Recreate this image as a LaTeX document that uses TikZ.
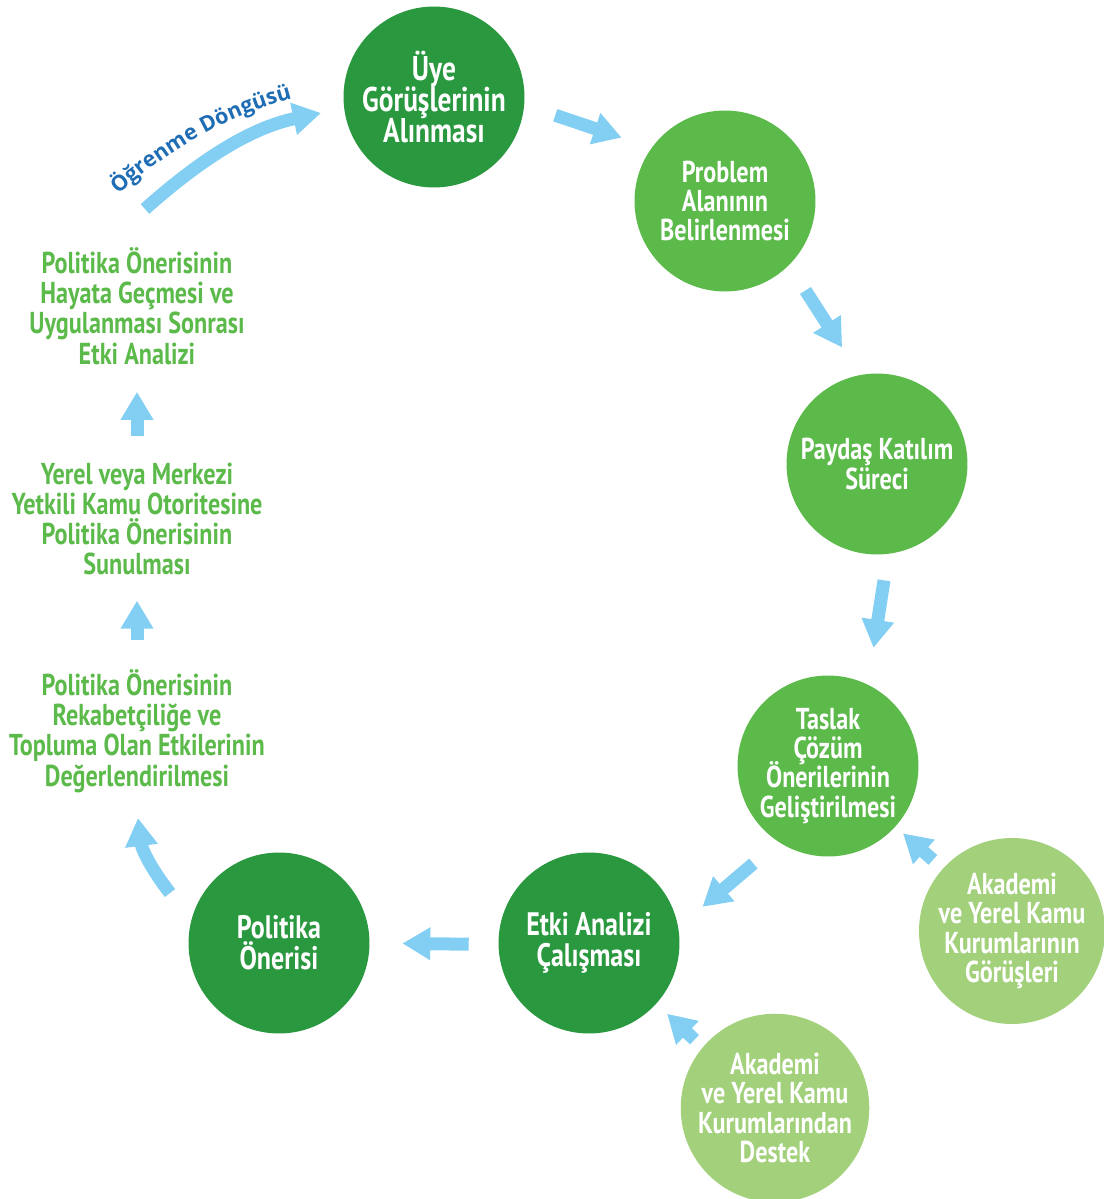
\documentclass[tikz,border=0pt]{standalone}
\usepackage{fontspec}
\setmainfont{PT Sans}[FakeStretch=0.8]
\newfontfamily\loopfont{Open Sans}
\usepackage{xcolor}
\usepackage{tikz}
\usetikzlibrary{arrows.meta}
\usetikzlibrary{decorations.text}
\definecolor{darkgreen}{HTML}{29983F}
\definecolor{midgreen}{HTML}{5CBA4B}
\definecolor{lightgreen}{HTML}{A2D07B}
\definecolor{arrowblue}{HTML}{83CFF3}
\definecolor{loopblue}{HTML}{1F6DB5}
\newcommand\tightlines{\lineskiplimit=-20pt\relax}

\tikzset{
  stage/.style={circle, minimum size=3.62cm, inner sep=0pt, text=white, align=center,
    font=\bfseries\fontsize{17.2}{16.6}\selectfont\tightlines},
  note/.style={inner sep=0pt, text=midgreen, align=center,
    font=\bfseries\fontsize{17.2}{17.2}\selectfont\tightlines},
  flow/.style={draw=arrowblue, line width=0.26cm, -{Triangle[length=0.56cm, width=0.62cm]},
    shorten <=0.6cm, shorten >=0.6cm}
}

\begin{document}
\begin{tikzpicture}[x=0.02cm, y=-0.02cm]
            \useasboundingbox (0,0) rectangle (1103,1199);

            % Döngü adımları
            \node[stage, fill=darkgreen, font=\bfseries\fontsize{19.5}{17.6}\selectfont\tightlines] (uye) at (434,97) {Üye\\Görüşlerinin\\Alınması};
            \node[stage, fill=midgreen] (problem) at (725,201) {Problem\\Alanının\\Belirlenmesi};
            \node[stage, fill=midgreen] (paydas) at (877,464) {Paydaş Katılım\\Süreci};
            \node[stage, fill=midgreen] (taslak) at (828,766) {Taslak\\Çözüm\\Önerilerinin\\Geliştirilmesi};
            \node[stage, fill=darkgreen, font=\bfseries\fontsize{18.5}{17.6}\selectfont\tightlines] (etki) at (589,943) {Etki Analizi\\Çalışması};
            \node[stage, fill=darkgreen, font=\bfseries\fontsize{18.5}{17.6}\selectfont\tightlines] (politika) at (279,943) {Politika\\Önerisi};

            % Destek veren kurumlar
            \node[stage, fill=lightgreen] (gorus) at (1012,931) {Akademi\\ve Yerel Kamu\\Kurumlarının\\Görüşleri};
            \node[stage, fill=lightgreen] (destek) at (775,1108) {Akademi\\ve Yerel Kamu\\Kurumlarından\\Destek};

            % Sol sütun
            \node[note] (degerlendirme) at (137,731) {Politika Önerisinin\\Rekabetçiliğe ve\\Topluma Olan Etkilerinin\\Değerlendirilmesi};
            \node[note] (sunum) at (137,519) {Yerel veya Merkezi\\Yetkili Kamu Otoritesine\\Politika Önerisinin\\Sunulması};
            \node[note] (uygulama) at (137,306) {Politika Önerisinin\\Hayata Geçmesi ve\\Uygulanması Sonrası\\Etki Analizi};

            % Oklar
            \draw[flow, shorten <=0.65cm, shorten >=0.63cm] (uye.-5) -- (problem.144);
            \draw[flow, shorten <=0.6cm, shorten >=0.65cm] (problem.-45) -- (paydas.101);
            \draw[flow, shorten <=0.53cm, shorten >=0.74cm] (paydas.-83) -- (taslak.64);
            \draw[flow, shorten <=0.66cm, shorten >=0.63cm] (taslak.-123.5) -- (etki.10);
            \draw[flow, shorten <=0.59cm, shorten >=0.65cm] (etki.181) -- (politika.0);
            \draw[flow, shorten <=0.26cm, shorten >=0.2cm] (gorus.138) -- (taslak.-42);
            \draw[flow, shorten <=0.22cm, shorten >=0.29cm] (destek.140) -- (etki.-42);
            \draw[flow, shorten <=0.58cm, shorten >=0.5cm] (degerlendirme) -- (sunum);
            \draw[flow, shorten <=0.52cm, shorten >=0.54cm] (sunum) -- (uygulama);

            \coordinate (donusA) at (170,893);
            \coordinate (donusB) at (138,818);
            \draw[flow, shorten <=0pt, shorten >=0pt] (donusA) .. controls (152,870) and (142,850) .. (donusB);

            % Öğrenme döngüsü
            \coordinate (ogrenA) at (145,209);
            \coordinate (ogrenB) at (321,113);
            \draw[flow, shorten <=0pt, shorten >=0pt] (ogrenA) .. controls (200,160) and (250,128) .. (ogrenB);
            \path[decorate, decoration={text along path, text align=center, text color=loopblue,
                text={|\loopfont\bfseries\fontsize{12.3}{12}\selectfont|Öğrenme Döngüsü}}]
                (117,196) .. controls (167,152) and (222,117) .. (294,98);
        \end{tikzpicture}
\end{document}
